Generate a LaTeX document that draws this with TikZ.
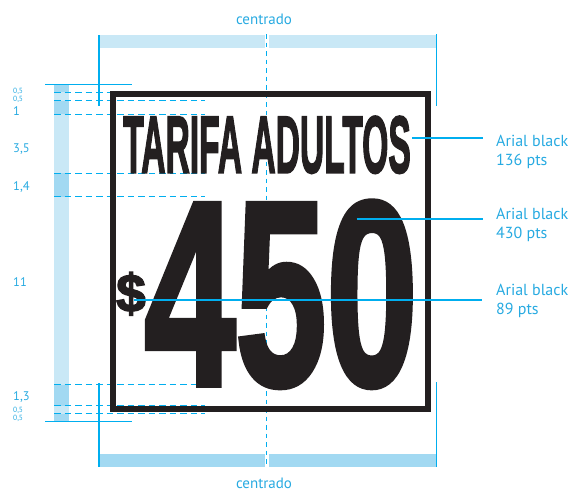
\documentclass[tikz,border=0pt]{standalone}
\usepackage{fontspec}
\setmainfont{PT Sans}
\newfontfamily\signfont{Liberation Sans}[BoldFeatures={FakeBold=2.5}]
\newfontfamily\dollarfont{Liberation Sans}[BoldFeatures={FakeBold=3}]
\definecolor{cy}{HTML}{00AEEF}
\definecolor{cytext}{HTML}{27AAE1}
\definecolor{barlight}{HTML}{C9E8F6}
\definecolor{bardark}{HTML}{A2D9F2}
\definecolor{ink}{HTML}{231F20}
\tikzset{
  blueline/.style={draw=cy, line width=1.5pt},
  guide/.style={draw=cy, line width=1.3pt, dash pattern=on 6.5pt off 4pt},
  centreline/.style={draw=cy, line width=1.6pt, dash pattern=on 4.5pt off 4pt},
  lbl/.style={text=cytext, inner sep=0pt, anchor=base west, font=\fontsize{16}{19}\selectfont},
  toplbl/.style={text=cytext, inner sep=0pt, anchor=base, font=\fontsize{15}{17}\selectfont},
  scalelbl/.style={text=cytext, inner sep=0pt, anchor=west, font=\fontsize{12.5}{13}\selectfont},
  smalllbl/.style={text=cytext, inner sep=0pt, anchor=west, font=\fontsize{7.5}{8}\selectfont},
  signtext/.style={text=ink, inner sep=0pt, anchor=base},
  border/.style={draw=ink, line width=6pt},
}
\begin{document}
\begin{tikzpicture}[x=1pt,y=-1pt]
\useasboundingbox (0,0) rectangle (571,491);
% width bars
\fill[barlight] (99,35) rectangle (436.7,47.7);
\fill[bardark] (99,454) rectangle (436.7,466.7);
% left scale bar
\foreach \a/\b/\c in {84.7/92.3/bardark, 92.3/100.5/barlight, 100.5/114.3/bardark,
  114.3/173.3/barlight, 173.3/196.7/bardark, 196.7/384.5/barlight,
  384.5/405.8/bardark, 405.8/413.8/barlight, 413.8/421.7/bardark}
  \fill[\c] (54,\a) rectangle (69,\b);
% guides
\foreach \y in {92.3,100.5,114.3,173.3,196.7,384.5,405.8,413.8}
  \draw[guide] (54,\y) -- (205,\y);
% centre line
\draw[white, line width=4pt] (267,35) -- (267,47.7);
\draw[white, line width=4pt] (267,454) -- (267,466.7);
\coordinate (ctop) at (266.3,34);
\coordinate (cbot) at (266.3,467);
\draw[centreline] (ctop) -- (cbot);
% sign text
\node[signtext, font=\signfont\bfseries\fontsize{81}{81}\selectfont] (title) at (267,172.7)
  {\scalebox{0.415}[1]{TARIFA ADULTOS}};
\node[signtext, font=\signfont\bfseries\fontsize{262}{262}\selectfont] (price) at (281,384.5)
  {\smash{\scalebox{0.625}[1]{450}}};
\node[signtext, font=\dollarfont\bfseries\fontsize{53}{53}\selectfont] (dollar) at (131,311.5) {\$};
% sign border
\draw[border] (112.5,93.5) rectangle (427.5,408.8);
% crop marks
\coordinate (tl1) at (99,35);   \coordinate (tl2) at (99,106);
\coordinate (tr1) at (436.7,34); \coordinate (tr2) at (436.7,106);
\coordinate (bl1) at (99,383);  \coordinate (bl2) at (99,467);
\coordinate (br1) at (436.7,382); \coordinate (br2) at (436.7,467);
\coordinate (ht1) at (45,84.7); \coordinate (ht2) at (132,84.7);
\coordinate (hb1) at (45,421.7); \coordinate (hb2) at (132,421.7);
\draw[blueline] (tl1) -- (tl2);
\draw[blueline] (tr1) -- (tr2);
\draw[blueline] (bl1) -- (bl2);
\draw[blueline] (br1) -- (br2);
\draw[blueline, line width=1.4pt] (ht1) -- (ht2);
\draw[blueline, line width=1.4pt] (hb1) -- (hb2);
% centred labels
\node[toplbl] (ctext1) at (264,24) {centrado};
\node[toplbl] (ctext2) at (264,488) {centrado};
% right labels
\node[lbl] (la1) at (496,146.7) {Arial black};
\node[lbl] (lb1) at (496,165) {136 pts};
\node[lbl] (la2) at (496,219) {Arial black};
\node[lbl] (lb2) at (496,238.3) {430 pts};
\node[lbl] (la3) at (496,295) {Arial black};
\node[lbl] (lb3) at (496,314.3) {89 pts};
% leaders
\coordinate (s1) at (412,138);   \coordinate (e1) at (483,138);
\coordinate (s2) at (356.7,218.7); \coordinate (e2) at (483,218.7);
\coordinate (s3) at (134,300);   \coordinate (e3) at (482,300);
\draw[blueline, line width=1.6pt] (s1) -- (e1);
\draw[blueline, line width=1.6pt] (s2) -- (e2);
\draw[blueline, line width=1.6pt] (s3) -- (e3);
% scale labels
\node[smalllbl] (v1) at (13,91.7) {0,5};
\node[smalllbl] (v2) at (13,99.7) {0,5};
\node[scalelbl] (v3) at (13,110.7) {1};
\node[scalelbl] (v4) at (13,149.3) {3,5};
\node[scalelbl] (v5) at (13,187.3) {1,4};
\node[scalelbl] (v6) at (13,282.3) {11};
\node[scalelbl] (v7) at (13,396.7) {1,3};
\node[smalllbl] (v8) at (13,410) {0,5};
\node[smalllbl] (v9) at (13,418.7) {0,5};
\end{tikzpicture}
\end{document}
